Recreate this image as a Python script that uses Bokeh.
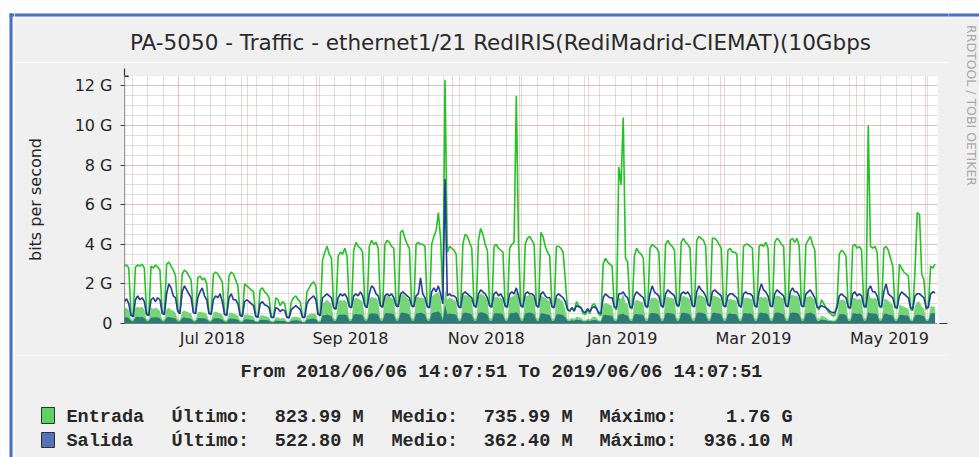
from datetime import datetime, timedelta
from math import pi
from bokeh.plotting import figure
from bokeh.layouts import row, column
from bokeh.models import Range1d, FixedTicker, Grid, Arrow, NormalHead, ColumnDataSource
from bokeh.core.properties import value
from bokeh.embed import file_html
from bokeh.resources import INLINE

# ---------------- data (Gbit/s, daily values, rows = weeks Mon..Sun) ----------------
first_day = datetime(2018, 6, 6, 12)   # Wed 2018-06-06, first row is Wed..Sun

entrada_max = [
    [2.90, 2.95, 2.80, 0.50, 0.40],
    [2.85, 2.95, 2.90, 3.00, 2.80, 0.55, 0.45],
    [2.90, 2.80, 2.95, 2.85, 2.70, 0.60, 0.50],
    [3.00, 3.10, 2.90, 2.70, 2.40, 0.70, 0.60],
    [2.50, 2.70, 2.60, 2.40, 2.20, 0.60, 0.50],
    [2.30, 2.40, 2.20, 2.30, 2.00, 0.55, 0.50],
    [2.50, 2.60, 2.50, 2.30, 2.10, 0.50, 0.45],
    [2.40, 2.60, 2.50, 2.20, 1.90, 0.45, 0.40],
    [2.00, 1.90, 1.80, 1.70, 1.60, 0.40, 0.35],
    [1.70, 1.80, 1.60, 1.50, 1.30, 0.35, 0.30],
    [1.30, 1.20, 0.90, 1.10, 1.00, 0.35, 0.30],
    [1.10, 1.30, 1.40, 1.20, 1.10, 0.35, 0.35],
    [1.60, 1.80, 2.00, 2.10, 1.90, 0.50, 0.45],
    [3.20, 3.60, 3.90, 3.50, 3.30, 0.80, 0.70],
    [3.40, 3.60, 3.50, 3.80, 3.40, 0.90, 0.80],
    [3.70, 4.10, 3.90, 3.80, 3.60, 0.90, 0.80],
    [3.90, 4.20, 4.00, 4.10, 3.80, 0.90, 0.80],
    [4.00, 4.20, 4.10, 3.90, 3.80, 1.00, 0.90],
    [4.60, 4.70, 4.30, 4.00, 3.80, 0.90, 0.85],
    [4.00, 4.10, 4.00, 4.00, 3.90, 0.90, 0.80],
    [4.00, 4.40, 4.70, 5.60, 4.30, 1.20, 12.30],
    [3.60, 3.90, 3.80, 3.70, 3.50, 0.90, 0.80],
    [4.00, 4.50, 4.40, 4.10, 3.80, 0.90, 0.80],
    [4.20, 4.80, 4.50, 4.00, 3.70, 0.90, 0.80],
    [3.90, 4.00, 3.80, 3.70, 3.60, 0.85, 0.80],
    [3.80, 4.00, 4.10, 11.50, 4.00, 0.90, 0.80],
    [4.00, 4.30, 4.40, 4.20, 4.00, 0.90, 0.80],
    [4.60, 4.40, 3.90, 3.60, 3.40, 0.85, 0.80],
    [3.90, 3.90, 3.80, 3.60, 2.20, 0.70, 0.60],
    [0.80, 0.60, 1.10, 0.90, 0.80, 0.50, 0.45],
    [0.70, 0.50, 0.90, 1.00, 0.80, 0.45, 0.40],
    [3.00, 3.30, 3.10, 3.00, 2.90, 0.80, 0.70],
    [7.90, 7.00, 10.40, 3.30, 3.10, 0.80, 0.75],
    [3.40, 3.80, 3.60, 3.50, 3.30, 0.85, 0.80],
    [3.80, 4.00, 3.90, 3.80, 3.60, 0.90, 0.80],
    [4.00, 4.20, 4.00, 3.90, 3.70, 0.90, 0.85],
    [4.10, 4.30, 4.10, 4.00, 3.80, 0.90, 0.85],
    [4.20, 4.40, 4.30, 4.20, 3.90, 0.95, 0.85],
    [4.30, 4.30, 4.20, 4.00, 3.80, 0.90, 0.85],
    [3.70, 3.80, 3.60, 3.60, 3.50, 0.90, 0.80],
    [3.90, 4.00, 4.00, 3.90, 3.80, 0.90, 0.80],
    [3.90, 4.00, 3.90, 4.10, 3.80, 0.90, 0.85],
    [4.10, 4.30, 4.20, 4.00, 3.90, 0.90, 0.85],
    [4.20, 4.30, 4.10, 4.30, 3.90, 0.90, 0.85],
    [4.00, 4.20, 4.40, 4.00, 3.70, 0.80, 0.70],
    [1.20, 1.00, 0.80, 0.60, 0.50, 0.40, 0.40],
    [1.00, 3.50, 3.70, 3.60, 3.40, 0.80, 0.75],
    [3.90, 4.00, 3.80, 3.90, 3.70, 0.85, 0.80],
    [10.00, 3.90, 3.80, 3.90, 3.60, 0.85, 0.80],
    [3.80, 3.90, 3.70, 3.30, 2.90, 0.80, 0.75],
    [3.00, 2.80, 2.60, 2.50, 2.40, 0.70, 0.65],
    [2.70, 5.60, 5.50, 2.50, 2.20, 0.70, 0.90],
    [2.90, 2.80, 3.00],
]

salida_max = [
    [1.10, 1.25, 1.00, 0.40, 0.35],
    [1.20, 1.40, 1.20, 1.30, 1.10, 0.45, 0.40],
    [1.20, 1.30, 1.10, 1.30, 1.20, 0.50, 0.45],
    [1.50, 2.00, 1.80, 1.40, 1.30, 0.60, 0.50],
    [1.60, 1.90, 1.70, 1.50, 1.30, 0.55, 0.50],
    [1.30, 1.60, 1.80, 1.40, 1.20, 0.50, 0.45],
    [1.20, 1.40, 1.30, 1.50, 1.10, 0.45, 0.40],
    [1.30, 1.50, 1.20, 1.20, 1.00, 0.40, 0.35],
    [1.10, 1.20, 1.10, 1.00, 0.90, 0.35, 0.30],
    [1.00, 1.10, 0.95, 0.90, 0.80, 0.30, 0.30],
    [0.80, 0.75, 0.60, 0.70, 0.65, 0.30, 0.28],
    [0.70, 0.80, 0.90, 0.80, 0.70, 0.30, 0.30],
    [1.00, 1.20, 1.30, 1.40, 1.20, 0.45, 0.40],
    [1.30, 1.40, 1.50, 1.40, 1.30, 0.80, 0.75],
    [1.30, 1.50, 1.40, 1.50, 1.30, 0.85, 0.80],
    [1.40, 1.50, 1.40, 1.60, 1.40, 0.90, 0.80],
    [1.50, 1.90, 1.80, 1.50, 1.40, 0.90, 0.85],
    [1.40, 1.50, 1.40, 1.50, 1.30, 0.90, 0.85],
    [1.50, 1.60, 1.50, 1.40, 1.30, 0.90, 0.85],
    [1.40, 1.50, 2.30, 1.50, 1.30, 0.85, 0.80],
    [1.60, 1.80, 1.60, 1.90, 1.50, 1.00, 7.30],
    [1.40, 1.50, 1.40, 1.40, 1.30, 0.85, 0.80],
    [1.50, 1.60, 1.50, 1.40, 1.30, 0.90, 0.85],
    [1.50, 1.70, 1.60, 1.50, 1.30, 0.90, 0.85],
    [1.50, 1.60, 1.40, 1.50, 1.30, 0.90, 0.85],
    [1.50, 1.60, 1.50, 1.80, 1.40, 0.90, 0.85],
    [1.50, 1.60, 1.50, 1.50, 1.40, 0.90, 0.85],
    [1.50, 1.60, 1.40, 1.30, 1.30, 0.85, 0.80],
    [1.40, 1.50, 1.40, 1.30, 1.10, 0.70, 0.65],
    [0.80, 0.65, 0.90, 0.85, 0.80, 0.60, 0.55],
    [0.75, 0.60, 0.80, 0.85, 0.75, 0.55, 0.50],
    [1.30, 1.50, 1.40, 1.30, 1.30, 0.85, 0.80],
    [1.50, 1.50, 1.60, 1.40, 1.30, 0.85, 0.80],
    [1.40, 1.60, 1.50, 1.40, 1.30, 0.90, 0.85],
    [1.50, 1.90, 1.60, 1.50, 1.40, 0.90, 0.85],
    [1.50, 1.70, 1.60, 1.50, 1.40, 0.95, 0.90],
    [1.50, 1.60, 1.50, 1.60, 1.40, 0.90, 0.85],
    [1.60, 1.90, 1.70, 1.60, 1.40, 0.95, 0.90],
    [1.60, 1.70, 1.60, 1.50, 1.40, 0.90, 0.85],
    [1.40, 1.50, 1.50, 1.40, 1.30, 0.90, 0.85],
    [1.50, 1.60, 1.50, 1.50, 1.40, 0.90, 0.85],
    [1.60, 2.00, 1.70, 1.60, 1.40, 0.90, 0.85],
    [1.50, 1.70, 1.60, 1.50, 1.40, 0.90, 0.85],
    [1.60, 1.80, 1.60, 1.60, 1.40, 0.90, 0.85],
    [1.50, 1.60, 1.70, 1.50, 1.30, 0.85, 0.80],
    [0.90, 0.85, 0.80, 0.70, 0.60, 0.55, 0.55],
    [0.80, 1.40, 1.50, 1.40, 1.30, 0.85, 0.80],
    [1.50, 1.60, 1.40, 1.50, 1.40, 0.90, 0.85],
    [1.70, 1.90, 1.60, 1.60, 1.40, 0.90, 0.85],
    [1.60, 2.00, 1.50, 1.40, 1.30, 0.85, 0.80],
    [1.40, 1.60, 1.50, 1.40, 1.30, 0.80, 0.75],
    [1.40, 1.50, 1.50, 1.40, 1.30, 0.80, 0.80],
    [1.50, 1.60, 1.55],
]

entrada_avg = [
    [0.75, 0.80, 0.70, 0.22, 0.20],
    [0.80, 0.85, 0.80, 0.85, 0.70, 0.22, 0.20],
    [0.80, 0.75, 0.80, 0.75, 0.65, 0.20, 0.20],
    [0.75, 0.80, 0.70, 0.65, 0.55, 0.20, 0.18],
    [0.60, 0.65, 0.60, 0.55, 0.50, 0.18, 0.17],
    [0.55, 0.60, 0.55, 0.55, 0.45, 0.17, 0.16],
    [0.55, 0.60, 0.55, 0.50, 0.45, 0.16, 0.15],
    [0.50, 0.55, 0.50, 0.45, 0.40, 0.15, 0.14],
    [0.45, 0.45, 0.42, 0.40, 0.35, 0.13, 0.12],
    [0.40, 0.42, 0.38, 0.35, 0.30, 0.12, 0.11],
    [0.32, 0.30, 0.25, 0.28, 0.25, 0.10, 0.10],
    [0.30, 0.33, 0.35, 0.32, 0.28, 0.10, 0.10],
    [0.40, 0.45, 0.50, 0.50, 0.45, 0.15, 0.14],
    [1.00, 1.10, 1.20, 1.10, 1.00, 0.25, 0.22],
    [1.10, 1.20, 1.15, 1.20, 1.05, 0.25, 0.22],
    [1.20, 1.30, 1.25, 1.20, 1.10, 0.27, 0.24],
    [1.25, 1.35, 1.30, 1.30, 1.15, 0.28, 0.25],
    [1.30, 1.40, 1.35, 1.30, 1.20, 0.28, 0.25],
    [1.40, 1.50, 1.40, 1.30, 1.20, 0.28, 0.25],
    [1.30, 1.35, 1.30, 1.30, 1.20, 0.27, 0.25],
    [1.35, 1.45, 1.50, 1.60, 1.30, 0.30, 1.76],
    [1.20, 1.30, 1.25, 1.20, 1.10, 0.27, 0.24],
    [1.35, 1.45, 1.40, 1.35, 1.20, 0.28, 0.25],
    [1.40, 1.50, 1.45, 1.35, 1.20, 0.28, 0.25],
    [1.30, 1.35, 1.30, 1.30, 1.20, 0.27, 0.25],
    [1.30, 1.35, 1.40, 1.60, 1.30, 0.28, 0.25],
    [1.35, 1.40, 1.45, 1.40, 1.30, 0.28, 0.25],
    [1.40, 1.35, 1.30, 1.20, 1.10, 0.27, 0.24],
    [1.25, 1.30, 1.20, 1.10, 0.70, 0.22, 0.20],
    [0.30, 0.22, 0.35, 0.32, 0.30, 0.18, 0.17],
    [0.25, 0.20, 0.32, 0.35, 0.30, 0.17, 0.16],
    [0.95, 1.05, 1.00, 0.95, 0.90, 0.25, 0.22],
    [1.30, 1.25, 1.50, 1.05, 1.00, 0.25, 0.23],
    [1.10, 1.20, 1.15, 1.10, 1.05, 0.26, 0.24],
    [1.25, 1.30, 1.30, 1.25, 1.15, 0.27, 0.25],
    [1.30, 1.35, 1.30, 1.30, 1.20, 0.28, 0.25],
    [1.30, 1.40, 1.35, 1.30, 1.20, 0.28, 0.25],
    [1.35, 1.45, 1.40, 1.35, 1.25, 0.28, 0.25],
    [1.40, 1.40, 1.35, 1.30, 1.20, 0.28, 0.25],
    [1.20, 1.25, 1.20, 1.20, 1.10, 0.27, 0.24],
    [1.25, 1.30, 1.30, 1.25, 1.20, 0.27, 0.24],
    [1.30, 1.35, 1.30, 1.35, 1.20, 0.28, 0.25],
    [1.35, 1.40, 1.40, 1.30, 1.25, 0.28, 0.25],
    [1.40, 1.45, 1.40, 1.40, 1.25, 0.28, 0.25],
    [1.30, 1.35, 1.40, 1.30, 1.15, 0.26, 0.24],
    [0.40, 0.35, 0.30, 0.20, 0.18, 0.15, 0.15],
    [0.35, 1.15, 1.20, 1.20, 1.10, 0.25, 0.23],
    [1.30, 1.30, 1.20, 1.25, 1.20, 0.27, 0.25],
    [1.60, 1.30, 1.25, 1.30, 1.20, 0.27, 0.25],
    [1.20, 1.25, 1.15, 1.05, 0.95, 0.25, 0.23],
    [0.95, 0.90, 0.85, 0.80, 0.75, 0.22, 0.20],
    [0.90, 1.10, 1.10, 0.85, 0.75, 0.22, 0.22],
    [0.90, 0.85, 0.824],
]

salida_avg = [
    [0.30, 0.32, 0.28, 0.12, 0.10],
    [0.32, 0.34, 0.32, 0.33, 0.28, 0.12, 0.10],
    [0.30, 0.30, 0.32, 0.30, 0.27, 0.11, 0.10],
    [0.30, 0.33, 0.30, 0.28, 0.25, 0.10, 0.10],
    [0.28, 0.30, 0.28, 0.26, 0.24, 0.10, 0.10],
    [0.26, 0.28, 0.27, 0.26, 0.22, 0.10, 0.09],
    [0.25, 0.27, 0.26, 0.24, 0.20, 0.09, 0.09],
    [0.23, 0.25, 0.24, 0.22, 0.19, 0.08, 0.08],
    [0.20, 0.21, 0.20, 0.19, 0.17, 0.07, 0.07],
    [0.18, 0.19, 0.18, 0.17, 0.15, 0.07, 0.06],
    [0.15, 0.14, 0.12, 0.13, 0.12, 0.06, 0.06],
    [0.14, 0.15, 0.16, 0.15, 0.13, 0.06, 0.06],
    [0.20, 0.22, 0.24, 0.25, 0.22, 0.08, 0.08],
    [0.40, 0.42, 0.45, 0.42, 0.38, 0.13, 0.12],
    [0.42, 0.45, 0.44, 0.45, 0.40, 0.13, 0.12],
    [0.45, 0.48, 0.46, 0.45, 0.42, 0.14, 0.13],
    [0.48, 0.52, 0.50, 0.50, 0.44, 0.14, 0.13],
    [0.50, 0.53, 0.50, 0.50, 0.45, 0.14, 0.13],
    [0.52, 0.55, 0.52, 0.50, 0.46, 0.14, 0.13],
    [0.50, 0.52, 0.55, 0.50, 0.45, 0.14, 0.13],
    [0.52, 0.56, 0.58, 0.60, 0.50, 0.15, 0.936],
    [0.47, 0.50, 0.48, 0.47, 0.44, 0.14, 0.13],
    [0.52, 0.55, 0.53, 0.50, 0.46, 0.14, 0.13],
    [0.53, 0.57, 0.55, 0.50, 0.46, 0.14, 0.13],
    [0.50, 0.52, 0.50, 0.50, 0.45, 0.14, 0.13],
    [0.50, 0.53, 0.52, 0.58, 0.47, 0.14, 0.13],
    [0.50, 0.53, 0.55, 0.52, 0.48, 0.14, 0.13],
    [0.52, 0.50, 0.48, 0.45, 0.42, 0.13, 0.12],
    [0.46, 0.48, 0.46, 0.42, 0.30, 0.12, 0.11],
    [0.17, 0.14, 0.20, 0.18, 0.17, 0.10, 0.10],
    [0.15, 0.12, 0.17, 0.18, 0.16, 0.10, 0.10],
    [0.40, 0.44, 0.42, 0.40, 0.38, 0.13, 0.12],
    [0.45, 0.46, 0.50, 0.42, 0.40, 0.13, 0.12],
    [0.45, 0.48, 0.46, 0.45, 0.42, 0.13, 0.12],
    [0.50, 0.53, 0.52, 0.50, 0.46, 0.14, 0.13],
    [0.50, 0.54, 0.52, 0.50, 0.46, 0.14, 0.13],
    [0.50, 0.55, 0.52, 0.50, 0.46, 0.14, 0.13],
    [0.52, 0.56, 0.54, 0.52, 0.47, 0.14, 0.13],
    [0.53, 0.54, 0.52, 0.50, 0.46, 0.14, 0.13],
    [0.48, 0.50, 0.48, 0.48, 0.44, 0.13, 0.12],
    [0.50, 0.52, 0.50, 0.50, 0.46, 0.14, 0.13],
    [0.50, 0.55, 0.52, 0.52, 0.46, 0.14, 0.13],
    [0.52, 0.55, 0.54, 0.50, 0.47, 0.14, 0.13],
    [0.53, 0.56, 0.54, 0.53, 0.47, 0.14, 0.13],
    [0.50, 0.52, 0.55, 0.50, 0.44, 0.13, 0.12],
    [0.20, 0.18, 0.16, 0.12, 0.11, 0.10, 0.10],
    [0.18, 0.45, 0.48, 0.47, 0.43, 0.13, 0.12],
    [0.50, 0.52, 0.48, 0.50, 0.46, 0.14, 0.13],
    [0.55, 0.52, 0.50, 0.50, 0.46, 0.14, 0.13],
    [0.48, 0.50, 0.45, 0.43, 0.40, 0.13, 0.12],
    [0.42, 0.44, 0.42, 0.40, 0.38, 0.12, 0.11],
    [0.40, 0.44, 0.44, 0.40, 0.36, 0.12, 0.12],
    [0.50, 0.52, 0.5228],
]

x_tick_dates = [datetime(2018, 7, 16), datetime(2018, 9, 16), datetime(2018, 11, 16),
                datetime(2019, 1, 16), datetime(2019, 3, 16), datetime(2019, 5, 16)]
x_tick_labels = ["Jul 2018", "Sep 2018", "Nov 2018", "Jan 2019", "Mar 2019", "May 2019"]
y_tick_values = [0, 2, 4, 6, 8, 10, 12]
y_tick_labels = ["0", "2 G", "4 G", "6 G", "8 G", "10 G", "12 G"]

title_text = "PA-5050 - Traffic - ethernet1/21 RedIRIS(RediMadrid-CIEMAT)(10Gbps"
period_text = "From 2018/06/06 14:07:51 To 2019/06/06 14:07:51"
watermark_text = "RRDTOOL / TOBI OETIKER"
legend_names = ["Entrada", "Salida"]
legend_last = ["823.99 M", "522.80 M"]
legend_avg = ["735.99 M", "362.40 M"]
legend_max = ["1.76 G", "936.10 M"]

# ---------------- styling ----------------
GA_COL = "#74D674"
GM_COL = "#22C322"
BA_COL = "#2E7A78"
BM_COL = "#243A9C"
SQ_COLS = ["#5FD35F", "#5472B8"]
BG = "#F0F0F0"
BLUE = "#4672C4"
TXT = "#262626"
AX = "#303838"
MONO = value("Liberation Mono")
SANS = value("DejaVu Sans")


def flat(rows):
    return [v * 1e9 for r in rows for v in r]


def ms(d):
    return (d - datetime(1970, 1, 1)).total_seconds() * 1000.0


def canvas(x0, x1, y0, y1, **kw):
    """A plain drawing panel whose data units are the page pixels it covers."""
    c = figure(width=x1 - x0, height=y1 - y0, x_range=Range1d(x0, x1), y_range=Range1d(y1, y0),
               min_border=0, x_axis_location=None, y_axis_location=None,
               toolbar_location=None, output_backend="svg", frame_align=False,
               background_fill_color=BG, border_fill_color=BG, outline_line_color=None, **kw)
    c.grid.visible = False
    return c


def rect(c, x0, x1, y0, y1, color, line=None):
    c.quad(left=[x0], right=[x1], top=[y0], bottom=[y1], fill_color=color,
           line_color=line, line_width=1)


# ---------------- main chart (page x 14..950, y 62..355) ----------------
ga, gm, ba, bm = flat(entrada_avg), flat(entrada_max), flat(salida_avg), flat(salida_max)
days = [first_day + timedelta(days=i) for i in range(len(gm))]
src = ColumnDataSource(dict(t=days, ga=ga, gm=gm, ba=ba, bm=bm))

t0 = datetime(2018, 6, 6, 14, 7, 51)
t1 = datetime(2019, 6, 6, 14, 7, 51)

p = figure(x_axis_type="datetime", frame_width=813, frame_height=248,
           min_border_left=110, min_border_right=13, min_border_top=13, min_border_bottom=32,
           x_range=Range1d(t0, t1), y_range=Range1d(0, 12.525e9), frame_align=False,
           output_backend="svg", toolbar_location=None,
           background_fill_color="white", border_fill_color=BG, outline_line_color=None)

p.xgrid.visible = False
p.ygrid.visible = False
month_starts = []
yy, mm = 2018, 7
while (yy, mm) <= (2019, 6):
    month_starts.append(ms(datetime(yy, mm, 1)))
    mm += 1
    if mm == 13:
        yy, mm = yy + 1, 1
sundays = [ms(datetime(2018, 6, 10) + timedelta(days=7 * k)) for k in range(52)]
p.add_layout(Grid(dimension=0, ticker=FixedTicker(ticks=sundays),
                  grid_line_color="#BDBDBD", grid_line_dash="1 1"))
p.add_layout(Grid(dimension=1, ticker=FixedTicker(ticks=[k * 0.5e9 for k in range(26)]),
                  grid_line_color="#BDBDBD", grid_line_dash="1 1"))
p.add_layout(Grid(dimension=0, ticker=FixedTicker(ticks=month_starts),
                  grid_line_color="#F59A9A", grid_line_dash="1 1"))
p.add_layout(Grid(dimension=1, ticker=FixedTicker(ticks=[v * 1e9 for v in y_tick_values]),
                  grid_line_color="#F59A9A", grid_line_dash="1 1"))

p.varea(x="t", y1=0, y2="ga", source=src, fill_color=GA_COL)
p.line("t", "gm", source=src, line_color=GM_COL, line_width=1.6)
p.varea(x="t", y1=0, y2="ba", source=src, fill_color=BA_COL)
p.line("t", "bm", source=src, line_color=BM_COL, line_width=1.6)

xt = [ms(d) for d in x_tick_dates]
p.xaxis.ticker = FixedTicker(ticks=xt)
p.xaxis.major_label_overrides = {v: s for v, s in zip(xt, x_tick_labels)}
p.xaxis.axis_line_color = None
p.xaxis.major_tick_out = 0
p.xaxis.major_tick_in = 0
p.xaxis.minor_tick_out = 0
p.xaxis.minor_tick_in = 0
p.xaxis.major_label_standoff = 5
p.xaxis.major_label_text_font = "DejaVu Sans"
p.xaxis.major_label_text_font_size = "16px"
p.xaxis.major_label_text_color = TXT

yt = [v * 1e9 for v in y_tick_values]
p.yaxis.ticker = FixedTicker(ticks=yt)
p.yaxis.major_label_overrides = {v: s for v, s in zip(yt, y_tick_labels)}
p.yaxis.axis_line_color = None
p.yaxis.major_tick_out = 4
p.yaxis.major_tick_in = 0
p.yaxis.major_tick_line_color = "#404040"
p.yaxis.minor_tick_out = 0
p.yaxis.minor_tick_in = 0
p.yaxis.major_label_standoff = 8
p.yaxis.major_label_text_font = "DejaVu Sans"
p.yaxis.major_label_text_font_size = "16px"
p.yaxis.major_label_text_color = TXT
p.yaxis.axis_label = "bits per second"
p.yaxis.axis_label_text_font = "DejaVu Sans"
p.yaxis.axis_label_text_font_size = "16px"
p.yaxis.axis_label_text_font_style = "normal"
p.yaxis.axis_label_text_color = TXT
p.yaxis.axis_label_standoff = 27

# rrdtool-style axis lines with arrow heads (frame-relative pixels)
p.add_layout(Arrow(x_start=0, y_start=-3, x_end=0, y_end=255,
                   start_units="screen", end_units="screen", line_color=AX, line_width=1.2,
                   end=NormalHead(size=8, fill_color=AX, line_color=AX)))
p.add_layout(Arrow(x_start=-4, y_start=0, x_end=823, y_end=0,
                   start_units="screen", end_units="screen", line_color=AX, line_width=1.2,
                   end=NormalHead(size=8, fill_color=AX, line_color=AX)))

# ---------------- header (page x 14..950, y 0..62) ----------------
head = canvas(14, 950, 0, 62)
rect(head, 14, 950, 0, 13, "white")
rect(head, 14, 950, 13, 16, BLUE)
rect(head, 14, 950, 17, 18, "#FAFAFA")
head.text(x=[500], y=[42], text=[title_text], text_font=SANS, text_font_size="21.5px",
          text_color="#2A2A2A", text_align="center", text_baseline="middle")

# ---------------- footer (page x 14..950, y 355..457) ----------------
foot = canvas(14, 950, 355, 457)
foot.text(x=[501], y=[371.5], text=[period_text], text_font=MONO, text_font_size="18.5px",
          text_font_style="bold", text_color=TXT, text_align="center", text_baseline="middle")
row_y = [417, 441]
square_y = [(407, 423), (432, 447)]
for i, ry in enumerate(row_y):
    rect(foot, 41, 54, square_y[i][0], square_y[i][1], SQ_COLS[i], line="#303030")
    foot.text(x=[66, 171, 391, 599], y=[ry] * 4,
              text=[legend_names[i], "Último:", "Medio:", "Máximo:"],
              text_font=MONO, text_font_size="18.5px", text_font_style="bold",
              text_color=TXT, text_align="left", text_baseline="middle")
    foot.text(x=[363, 572, 792], y=[ry] * 3,
              text=[legend_last[i], legend_avg[i], legend_max[i]],
              text_font=MONO, text_font_size="18.5px", text_font_style="bold",
              text_color=TXT, text_align="right", text_baseline="middle")

# ---------------- side strips ----------------
left = canvas(0, 14, 0, 457)
rect(left, 0, 9, 0, 457, "white")
rect(left, 0, 14, 0, 13, "white")
rect(left, 9, 12, 13, 457, BLUE)
rect(left, 9, 14, 13, 16, BLUE)
rect(left, 13, 14, 17, 457, "#FAFAFA")

# the right strip overlaps the column by 2px to hide the seam between them
right = canvas(948, 979, 0, 457, margin=(0, 0, 0, -2))
rect(right, 948, 979, 0, 13, "white")
rect(right, 948, 979, 13, 16, BLUE)
rect(right, 948, 979, 17, 18, "#FAFAFA")
right.text(x=[971], y=[105], text=[watermark_text], text_font=SANS, text_font_size="12.5px",
           text_color="#A8A8A8", text_align="center", text_baseline="middle", angle=-pi / 2)

layout = row(left, column(head, p, foot), right)

html = file_html(layout, INLINE)
html = html.replace("<body", '<body style="background:#F0F0F0"', 1)
open("out.html", "w").write(html)
